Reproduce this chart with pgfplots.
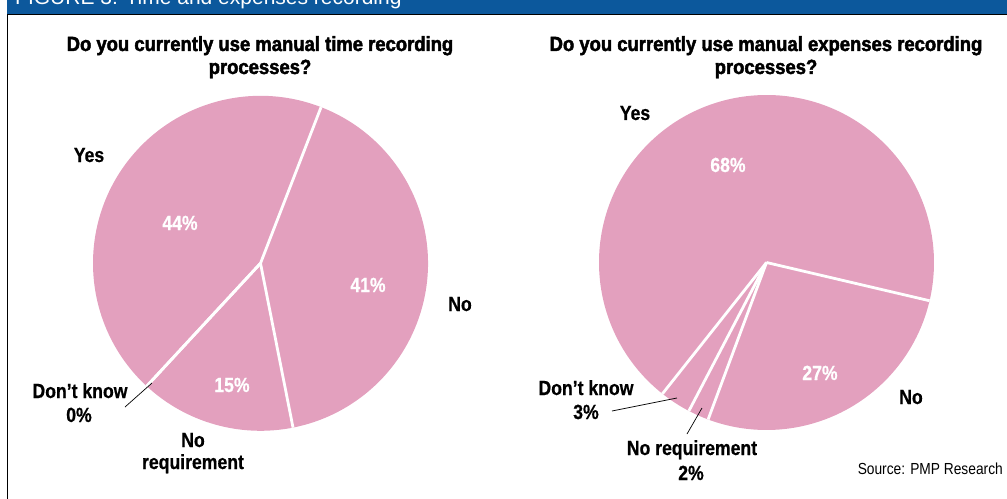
\documentclass[border=0pt]{standalone}
\usepackage{pgfplots}
\pgfplotsset{compat=1.18}
\usepackage{pgfplotstable}
\usepackage{fontspec}
\setmainfont{Liberation Sans}
\newfontfamily\cond[FakeStretch=0.86]{Liberation Sans}
\newfontfamily\condlab[FakeStretch=0.86,FakeBold=0.6]{Liberation Sans Bold}
\newfontfamily\condtitle[FakeStretch=0.9,FakeBold=2.2]{Liberation Sans Bold}
\newfontfamily\headfont{Liberation Sans}
\definecolor{piepink}{HTML}{E3A0BE}
\definecolor{headblue}{HTML}{0C589C}

% slice values in percent, in clockwise order from the start angle
\pgfplotstableread{
slice pct
No 41
NoRequirement 15
DontKnow 0
Yes 44
}\timedata
\pgfplotstableread{
slice pct
No 27
NoRequirement 2
DontKnow 3
Yes 68
}\expdata

% #1 table, #2 cx, #3 cy, #4 radius (bp), #5 start angle
\newcommand\drawpie[5]{%
  \pgfplotstablegetrowsof{#1}\pgfmathtruncatemacro\nrows{\pgfplotsretval-1}%
  \xdef\cumang{#5}%
  \pgfplotsforeachungrouped \i in {0,...,\nrows}{%
    \pgfplotstablegetelem{\i}{pct}\of{#1}%
    \pgfmathsetmacro\endang{\cumang-3.6*\pgfplotsretval}%
    \edef\tmp{\noexpand\fill[piepink] (axis cs:#2,#3) -- ++(\cumang:#4bp) arc[start angle=\cumang, end angle=\endang, radius=#4bp] -- cycle;}%
    \tmp
    \xdef\cumang{\endang}%
  }%
  \xdef\cumang{#5}%
  \pgfplotsforeachungrouped \i in {0,...,\nrows}{%
    \pgfplotstablegetelem{\i}{pct}\of{#1}%
    \pgfmathsetmacro\endang{\cumang-3.6*\pgfplotsretval}%
    \edef\tmp{\noexpand\draw[white, line width=2.8bp, line cap=butt] (axis cs:#2,#3) -- ++(\cumang:#4bp);}%
    \tmp
    \xdef\cumang{\endang}%
  }%
}

\tikzset{
  lab/.style={anchor=base, inner sep=0pt, font=\condlab\fontsize{20.5bp}{22bp}\selectfont, text=black},
  pct/.style={lab, text=white},
  ttl/.style={anchor=base, inner sep=0pt, font=\condtitle\fontsize{20.5bp}{22bp}\selectfont, text=black},
}

\begin{document}
\begin{tikzpicture}
\useasboundingbox (0,0) rectangle (1007bp,499bp);
\begin{axis}[at={(0,0)}, anchor=south west, width=1007bp, height=499bp,
  scale only axis, xmin=0, xmax=1007, ymin=0, ymax=499, y dir=reverse,
  hide axis, clip=false]
% header
\fill[headblue] (axis cs:7,-5) rectangle (axis cs:1012,14);
\draw[black, line width=1.2bp] (axis cs:7,14.3) -- (axis cs:1012,14.3);
\draw[black, line width=1.2bp] (axis cs:7.6,14) -- (axis cs:7.6,505);
\node[anchor=base west, inner sep=0pt, text=white, font=\headfont\fontsize{21bp}{22bp}\selectfont] at (axis cs:15,5) {FIGURE 3: Time and expenses recording};

% pies
\drawpie{\timedata}{260.5}{263.3}{167.5}{68.8}
\drawpie{\expdata}{766.5}{262.5}{167.5}{-13.2}

% titles
\node[ttl] at (axis cs:260,51) {Do you currently use manual time recording};
\node[ttl] at (axis cs:260,74) {processes?};
\node[ttl] at (axis cs:766,51) {Do you currently use manual expenses recording};
\node[ttl] at (axis cs:766,74) {processes?};

% left pie labels
\node[lab] at (axis cs:89,162) {Yes};
\node[pct] at (axis cs:180,230) {44\%};
\node[pct] at (axis cs:368,292) {41\%};
\node[lab] at (axis cs:460,311) {No};
\node[pct] at (axis cs:232,392) {15\%};
\node[lab] at (axis cs:193,447) {No};
\node[lab] at (axis cs:193,469) {requirement};
\node[lab] at (axis cs:80,398) {Don’t know};
\node[lab] at (axis cs:79,422) {0\%};
\draw[black, line width=0.7bp] (axis cs:152,383) -- (axis cs:125,407);

% right pie labels
\node[lab] at (axis cs:635,120) {Yes};
\node[pct] at (axis cs:728,172) {68\%};
\node[pct] at (axis cs:820,380) {27\%};
\node[lab] at (axis cs:911,404) {No};
\node[lab] at (axis cs:586,395) {Don’t know};
\node[lab] at (axis cs:586,419) {3\%};
\draw[black, line width=0.7bp] (axis cs:677,398) -- (axis cs:612,411);
\node[lab] at (axis cs:692,455) {No requirement};
\node[lab] at (axis cs:691,480) {2\%};
\draw[black, line width=0.7bp] (axis cs:702,408) -- (axis cs:687,434);

\node[anchor=base east, inner sep=0pt, font=\cond\fontsize{16bp}{18bp}\selectfont] at (axis cs:1003,474) {Source: PMP Research};
\end{axis}
\end{tikzpicture}
\end{document}
